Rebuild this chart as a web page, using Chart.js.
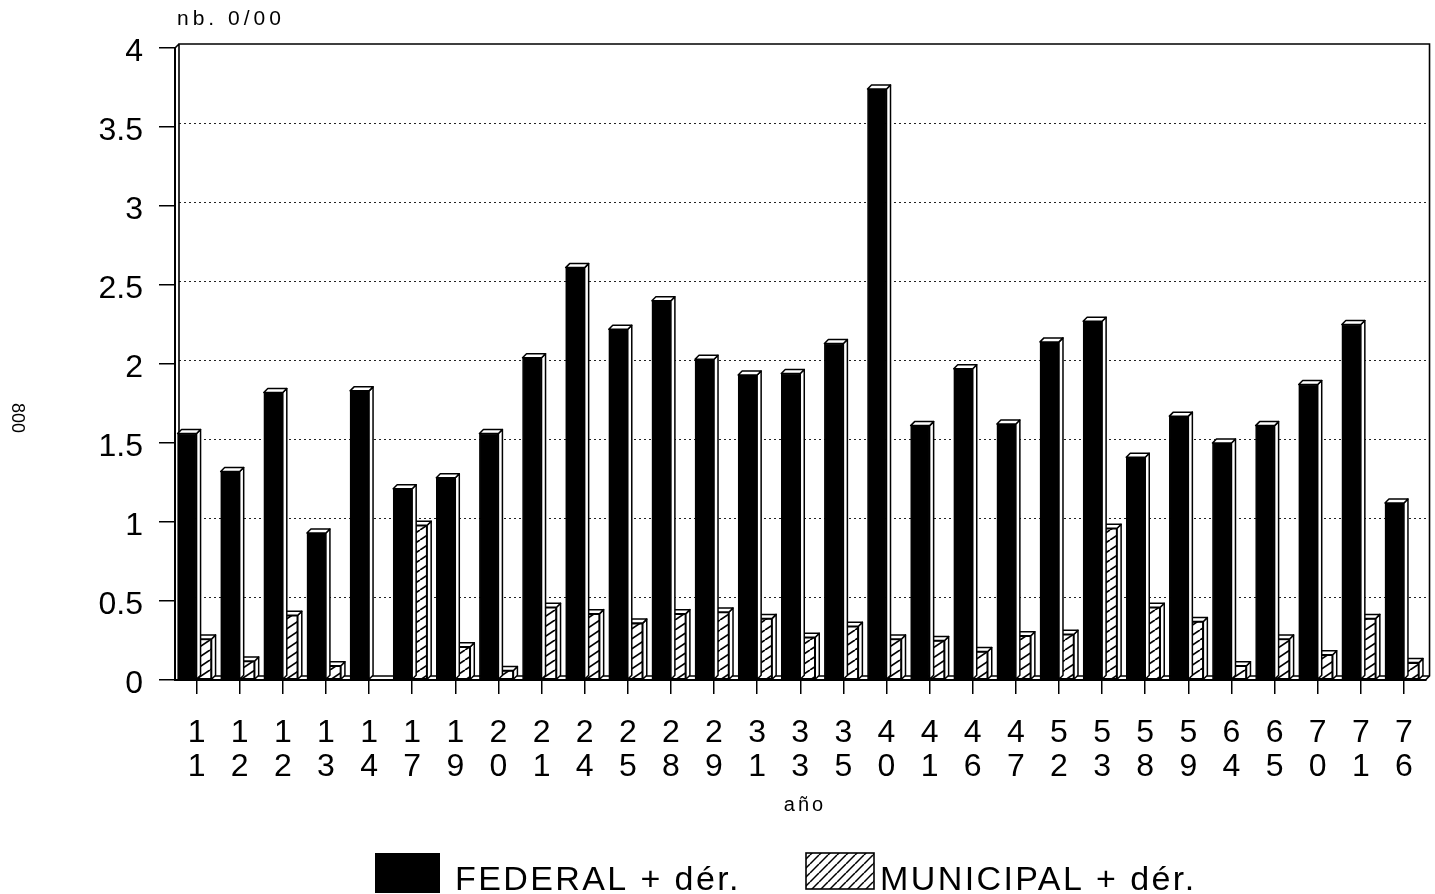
<!DOCTYPE html>
<html>
<head>
<meta charset="utf-8">
<title>FEDERAL / MUNICIPAL</title>
<script src="https://cdn.jsdelivr.net/npm/chart.js@4.4.1/dist/chart.umd.min.js"></script>
<style>
  html, body { margin: 0; padding: 0; background: #fff; }
  canvas { display: block; }
</style>
</head>
<body>
<canvas id="chart" width="1435" height="894"></canvas>
<script>
// Categories (año), each shown as two stacked digits under its group
const years = ['11', '12', '12', '13', '14', '17', '19', '20', '21', '24', '25', '28', '29', '31', '33',
               '35', '40', '41', '46', '47', '52', '53', '58', '59', '64', '65', '70', '71', '76'];

// Rates per thousand (nb. 0/00)
const federal   = [1.56, 1.32, 1.82, 0.93, 1.83, 1.21, 1.28, 1.56, 2.04, 2.61, 2.22, 2.40, 2.03, 1.93, 1.94,
                   2.13, 3.74, 1.61, 1.97, 1.62, 2.14, 2.27, 1.41, 1.67, 1.50, 1.61, 1.87, 2.25, 1.12];
const municipal = [0.26, 0.12, 0.41, 0.09, 0.00, 0.98, 0.21, 0.06, 0.46, 0.42, 0.36, 0.42, 0.43, 0.39, 0.27,
                   0.34, 0.26, 0.25, 0.18, 0.28, 0.29, 0.96, 0.46, 0.37, 0.09, 0.26, 0.16, 0.39, 0.11];

const yMin = 0, yMax = 4, yStep = 0.5;
const seriesNames = ['FEDERAL + dér.', 'MUNICIPAL + dér.'];
const unitLabel = 'nb. 0/00';
const axisLabel = 'año';
const sideNote = '800';

const FONT = '"Liberation Sans", Arial, Helvetica, sans-serif';
const DEPTH = 4; // pseudo-3D offset of wall, floor and bar faces

// Diagonal hatch fill
function hatch(w, h, lw) {
  const c = document.createElement('canvas');
  c.width = w; c.height = h;
  const g = c.getContext('2d');
  g.fillStyle = '#fff';
  g.fillRect(0, 0, w, h);
  g.strokeStyle = '#000';
  g.lineWidth = lw;
  for (const o of [-1, 0, 1]) {
    g.beginPath();
    g.moveTo(o * w, h);
    g.lineTo((o + 1) * w, 0);
    g.stroke();
  }
  return g.createPattern(c, 'repeat');
}
const barHatch = hatch(15, 10, 1.7);
const keyHatch = hatch(9, 9, 1.5);

const depthPlugin = {
  id: 'depth',
  beforeDatasetsDraw(chart) {
    const { ctx, chartArea: a } = chart;
    const y = chart.scales.y;
    ctx.save();
    // back-wall gridlines
    ctx.strokeStyle = '#222';
    ctx.lineWidth = 1.2;
    ctx.setLineDash([2, 3]);
    for (let v = yMin + yStep; v < yMax - 1e-9; v += yStep) {
      const py = Math.round(y.getPixelForValue(v) - DEPTH) + 0.5;
      ctx.beginPath();
      ctx.moveTo(a.left + DEPTH, py);
      ctx.lineTo(a.right + DEPTH, py);
      ctx.stroke();
    }
    ctx.setLineDash([]);
    // wall and floor outlines
    ctx.strokeStyle = '#000';
    ctx.lineWidth = 1.6;
    ctx.beginPath();
    ctx.moveTo(a.left + DEPTH, a.bottom - DEPTH);
    ctx.lineTo(a.left + DEPTH, a.top - DEPTH);
    ctx.lineTo(a.right + DEPTH, a.top - DEPTH);
    ctx.lineTo(a.right + DEPTH, a.bottom - DEPTH);
    ctx.lineTo(a.right, a.bottom);
    ctx.moveTo(a.left, a.top);
    ctx.lineTo(a.left + DEPTH, a.top - DEPTH);
    ctx.moveTo(a.left + DEPTH, a.bottom - DEPTH);
    ctx.lineTo(a.right + DEPTH, a.bottom - DEPTH);
    ctx.stroke();
    ctx.restore();
  },
  afterDatasetDraw(chart, args) {
    const ctx = chart.ctx;
    ctx.save();
    ctx.fillStyle = '#fff';
    ctx.strokeStyle = '#000';
    ctx.lineWidth = 1.5;
    ctx.lineJoin = 'round';
    args.meta.data.forEach(bar => {
      const { x, y, base, width } = bar.getProps(['x', 'y', 'base', 'width'], true);
      if (Math.abs(base - y) < 0.5) return;
      const l = x - width / 2, r = x + width / 2;
      ctx.beginPath();
      ctx.moveTo(r, y);
      ctx.lineTo(r + DEPTH, y - DEPTH);
      ctx.lineTo(r + DEPTH, base - DEPTH);
      ctx.lineTo(r, base);
      ctx.closePath();
      ctx.fill();
      ctx.stroke();
      ctx.beginPath();
      ctx.moveTo(l, y);
      ctx.lineTo(l + DEPTH, y - DEPTH);
      ctx.lineTo(r + DEPTH, y - DEPTH);
      ctx.lineTo(r, y);
      ctx.closePath();
      ctx.fill();
      ctx.stroke();
    });
    ctx.restore();
  },
  afterDraw(chart) {
    const ctx = chart.ctx;
    ctx.save();
    ctx.fillStyle = '#000';
    ctx.textBaseline = 'alphabetic';

    // unit above the value axis
    ctx.font = '21px ' + FONT;
    ctx.letterSpacing = '4px';
    ctx.textAlign = 'left';
    ctx.fillText(unitLabel, 177, 25);

    // category axis title
    ctx.font = '20px ' + FONT;
    ctx.letterSpacing = '3px';
    ctx.textAlign = 'center';
    ctx.fillText(axisLabel, 805, 811);

    // side note, rotated
    ctx.save();
    ctx.translate(12, 418);
    ctx.rotate(Math.PI / 2);
    ctx.font = '18px ' + FONT;
    ctx.letterSpacing = '0px';
    ctx.textAlign = 'center';
    ctx.fillText(sideNote, 0, 0);
    ctx.restore();

    // key
    ctx.font = '34px ' + FONT;
    ctx.letterSpacing = '2.4px';
    ctx.textAlign = 'left';
    ctx.fillRect(375, 853, 65, 40);
    ctx.fillText(seriesNames[0], 455, 890);
    ctx.fillStyle = keyHatch;
    ctx.fillRect(806, 853, 68, 36);
    ctx.strokeStyle = '#000';
    ctx.lineWidth = 1.6;
    ctx.strokeRect(806, 853, 68, 36);
    ctx.fillStyle = '#000';
    ctx.fillText(seriesNames[1], 880, 890);
    ctx.restore();
  }
};

new Chart(document.getElementById('chart'), {
  type: 'bar',
  data: {
    labels: years.map(s => s.split('')),
    datasets: [
      {
        label: seriesNames[0],
        data: federal,
        backgroundColor: '#000',
        borderColor: '#000',
        borderWidth: 1,
        borderSkipped: false,
        barThickness: 19
      },
      {
        label: seriesNames[1],
        data: municipal,
        backgroundColor: barHatch,
        borderColor: '#000',
        borderWidth: 1.6,
        borderSkipped: false,
        barThickness: 15
      }
    ]
  },
  options: {
    responsive: false,
    animation: false,
    devicePixelRatio: 1,
    layout: { padding: { top: 48, right: 8, left: 0, bottom: 0 } },
    plugins: {
      legend: { display: false },
      tooltip: { enabled: false },
      title: { display: false }
    },
    scales: {
      x: {
        afterFit(scale) { scale.height = 214; },
        grid: {
          offset: false,
          drawOnChartArea: false,
          drawTicks: true,
          tickLength: 14,
          color: '#000',
          lineWidth: 1.5
        },
        border: { display: true, color: '#000', width: 2 },
        ticks: {
          autoSkip: false,
          maxRotation: 0,
          minRotation: 0,
          padding: 22,
          color: '#000',
          font: { family: FONT, size: 32, lineHeight: 1.06 }
        }
      },
      y: {
        min: yMin,
        max: yMax,
        afterFit(scale) { scale.width = 175; },
        grid: {
          drawOnChartArea: false,
          drawTicks: true,
          tickLength: 16,
          color: '#000',
          lineWidth: 1.5
        },
        border: { display: true, color: '#000', width: 2 },
        ticks: {
          stepSize: yStep,
          padding: 16,
          labelOffset: 4,
          color: '#000',
          font: { family: FONT, size: 32 },
          callback: v => String(v)
        }
      }
    }
  },
  plugins: [depthPlugin]
});
</script>
</body>
</html>
